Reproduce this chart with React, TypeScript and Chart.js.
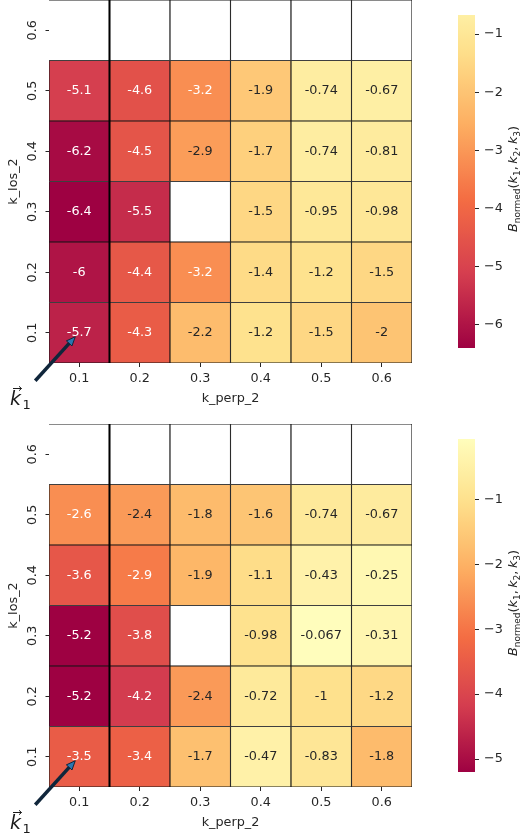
import React, { useEffect, useRef } from 'react';
import { Chart, registerables } from 'chart.js';

Chart.register(...registerables);

const FONT = '"DejaVu Sans"';
const TEXT = '#262626';
const FS = 12.8;

// categories
const xLabels = ['0.1', '0.2', '0.3', '0.4', '0.5', '0.6']; // k_perp_2
const yLabels = ['0.1', '0.2', '0.3', '0.4', '0.5', '0.6']; // k_los_2 (bottom -> top)

// top heatmap rows (k_los_2 = 0.1 ... 0.6), columns k_perp_2 = 0.1 ... 0.6
const topLos01 = [-5.7, -4.3, -2.2, -1.2, -1.5, -2];
const topLos02 = [-6, -4.4, -3.2, -1.4, -1.2, -1.5];
const topLos03 = [-6.4, -5.5, null, -1.5, -0.95, -0.98];
const topLos04 = [-6.2, -4.5, -2.9, -1.7, -0.74, -0.81];
const topLos05 = [-5.1, -4.6, -3.2, -1.9, -0.74, -0.67];
const topLos06 = [null, null, null, null, null, null];

// bottom heatmap rows
const botLos01 = [-3.5, -3.4, -1.7, -0.47, -0.83, -1.8];
const botLos02 = [-5.2, -4.2, -2.4, -0.72, -1, -1.2];
const botLos03 = [-5.2, -3.8, null, -0.98, -0.067, -0.31];
const botLos04 = [-3.6, -2.9, -1.9, -1.1, -0.43, -0.25];
const botLos05 = [-2.6, -2.4, -1.8, -1.6, -0.74, -0.67];
const botLos06 = [null, null, null, null, null, null];

// colorbar tick values
const topColorbarTicks = [-6, -5, -4, -3, -2, -1];
const bottomColorbarTicks = [-5, -4, -3, -2, -1];

const topRows = [topLos01, topLos02, topLos03, topLos04, topLos05, topLos06];
const bottomRows = [botLos01, botLos02, botLos03, botLos04, botLos05, botLos06];

const SPECTRAL_HEX = ['#9e0142', '#d53e4f', '#f46d43', '#fdae61', '#fee08b', '#ffffbf', '#e6f598', '#abdda4', '#66c2a5', '#3288bd', '#5e4fa2'];
const SPECTRAL = SPECTRAL_HEX.map((h) => [parseInt(h.slice(1, 3), 16), parseInt(h.slice(3, 5), 16), parseInt(h.slice(5, 7), 16)]);

function spectralRgb(t: number): number[] {
  const tt = Math.max(0, Math.min(1, t));
  const p = tt * 10;
  const i = Math.min(9, Math.floor(p));
  const f = p - i;
  const a = SPECTRAL[i], b = SPECTRAL[i + 1];
  return [a[0] + (b[0] - a[0]) * f, a[1] + (b[1] - a[1]) * f, a[2] + (b[2] - a[2]) * f];
}
function rgbStr(c: number[]) {
  return `rgb(${Math.round(c[0])},${Math.round(c[1])},${Math.round(c[2])})`;
}
// seaborn heatmap with center=0
function cellRgb(v: number, R: number) {
  return spectralRgb((v + R) / (2 * R));
}
function luminance(c: number[]) {
  const l = c.map((x) => {
    const s = x / 255;
    return s <= 0.03928 ? s / 12.92 : Math.pow((s + 0.055) / 1.055, 2.4);
  });
  return 0.2126 * l[0] + 0.7152 * l[1] + 0.0722 * l[2];
}
function fmt(v: number) {
  return String(parseFloat(v.toPrecision(2)));
}

type Part = { t: string; f: string; dy: number; gap?: number };
function drawParts(ctx: CanvasRenderingContext2D, parts: Part[]) {
  let total = 0;
  const widths = parts.map((p) => {
    ctx.font = p.f;
    const w = ctx.measureText(p.t).width + (p.gap || 0);
    total += w;
    return w;
  });
  let x = -total / 2;
  parts.forEach((p, i) => {
    ctx.font = p.f;
    ctx.fillText(p.t, x, p.dy);
    x += widths[i];
  });
}

function Panel({ rows, cbTicks, top }: { rows: (number | null)[][]; cbTicks: number[]; top: number }) {
  const heatRef = useRef<HTMLCanvasElement>(null);
  const cbRef = useRef<HTMLCanvasElement>(null);

  useEffect(() => {
    const vals = rows.flat().filter((v) => v != null) as number[];
    const vmin = Math.min(...vals);
    const vmax = Math.max(...vals);
    const R = Math.max(Math.abs(vmin), Math.abs(vmax));

    const datasets = rows.map((row, r) => ({
      data: row.map(() => [r - 0.5, r + 0.5]),
      backgroundColor: row.map((v) => (v == null ? '#ffffff' : rgbStr(cellRgb(v, R)))),
      borderColor: '#151515',
      borderWidth: 0.9,
      borderSkipped: (ctx: any) => (ctx.datasetIndex === rows.length - 1 && ctx.dataIndex === 0 ? 'left' : false),
      grouped: false,
      barPercentage: 1,
      categoryPercentage: 1,
    }));

    const heatPlugin = {
      id: 'heatExtras',
      afterDatasetsDraw(chart: any) {
        const { ctx, chartArea } = chart;
        const xs = chart.scales.x, ys = chart.scales.y;
        ctx.save();
        ctx.font = `${FS}px ${FONT}`;
        ctx.textAlign = 'center';
        ctx.textBaseline = 'middle';
        rows.forEach((row, r) =>
          row.forEach((v, c) => {
            if (v == null) return;
            const col = cellRgb(v, R);
            ctx.fillStyle = luminance(col) > 0.408 ? TEXT : '#ffffff';
            ctx.fillText(fmt(v), xs.getPixelForValue(c), ys.getPixelForValue(r));
          })
        );
        const xb = (xs.getPixelForValue(0) + xs.getPixelForValue(1)) / 2;
        ctx.strokeStyle = '#000000';
        ctx.lineWidth = 2;
        ctx.beginPath();
        ctx.moveTo(xb, chartArea.top);
        ctx.lineTo(xb, chartArea.bottom);
        ctx.stroke();
        ctx.restore();
      },
      afterDraw(chart: any) {
        const { ctx } = chart;
        const xs = chart.scales.x, ys = chart.scales.y;
        ctx.save();
        // arrow annotation pointing at first cell
        const tipX = xs.getPixelForValue(0) - 4;
        const tipY = ys.getPixelForValue(0) + 4;
        const tailX = tipX - 40, tailY = tipY + 44;
        const dx = tipX - tailX, dy = tipY - tailY;
        const len = Math.hypot(dx, dy);
        const ux = dx / len, uy = dy / len;
        const px = -uy, py = ux;
        ctx.strokeStyle = '#10263b';
        ctx.lineWidth = 3.5;
        ctx.lineCap = 'butt';
        ctx.beginPath();
        ctx.moveTo(tailX, tailY);
        ctx.lineTo(tipX - ux * 6, tipY - uy * 6);
        ctx.stroke();
        const hb = 9, hw = 3.8;
        ctx.beginPath();
        ctx.moveTo(tipX, tipY);
        ctx.lineTo(tipX - ux * hb + px * hw, tipY - uy * hb + py * hw);
        ctx.lineTo(tipX - ux * hb - px * hw, tipY - uy * hb - py * hw);
        ctx.closePath();
        ctx.fillStyle = '#2b76b0';
        ctx.fill();
        ctx.lineWidth = 1;
        ctx.stroke();

        // vector k_1 label
        ctx.fillStyle = '#1a1a1a';
        ctx.strokeStyle = '#1a1a1a';
        ctx.textAlign = 'left';
        ctx.textBaseline = 'alphabetic';
        ctx.font = `italic 19px ${FONT}`;
        ctx.fillText('k', 10, 405);
        ctx.font = `13px ${FONT}`;
        ctx.fillText('1', 22.5, 409);
        ctx.lineWidth = 1;
        ctx.beginPath();
        ctx.moveTo(13, 388.5);
        ctx.lineTo(21.5, 388.5);
        ctx.moveTo(19, 386.3);
        ctx.lineTo(21.5, 388.5);
        ctx.lineTo(19, 390.7);
        ctx.stroke();
        ctx.restore();
      },
    };

    const tickFont = { family: FONT, size: FS };

    const heat = new Chart(heatRef.current as HTMLCanvasElement, {
      type: 'bar',
      data: { labels: xLabels, datasets: datasets as any },
      options: {
        animation: false,
        responsive: false,
        maintainAspectRatio: false,
        events: [],
        layout: { padding: { left: 0, right: 8, top: 0, bottom: 0 } },
        plugins: { legend: { display: false }, tooltip: { enabled: false } },
        scales: {
          x: {
            type: 'category',
            offset: true,
            grid: { display: true, drawOnChartArea: false, drawTicks: true, tickLength: 4, offset: false, color: TEXT, tickColor: TEXT, tickWidth: 1 },
            border: { display: false },
            ticks: { color: TEXT, font: tickFont, padding: 3.8, maxRotation: 0, minRotation: 0, autoSkip: false },
            title: { display: true, text: 'k_perp_2', color: TEXT, font: tickFont, padding: { top: 0, bottom: 6.1 } },
            afterFit: (s: any) => {
              s.height = 49;
              s.paddingLeft = 0;
              s.paddingRight = 0;
            },
          },
          y: {
            type: 'linear',
            min: -0.5,
            max: 5.5,
            afterBuildTicks: (s: any) => {
              s.ticks = yLabels.map((_, i) => ({ value: i }));
            },
            grid: { display: true, drawOnChartArea: false, drawTicks: true, tickLength: 3.5, color: TEXT, tickColor: TEXT, tickWidth: 1 },
            border: { display: false },
            ticks: {
              color: TEXT,
              font: tickFont,
              padding: 3.1,
              minRotation: 90,
              maxRotation: 90,
              crossAlign: 'center',
              autoSkip: false,
              callback: (v: any) => yLabels[Math.round(Number(v))],
            },
            title: { display: true, text: 'k_los_2', color: TEXT, font: tickFont, padding: { top: 5.5, bottom: 0 } },
            afterFit: (s: any) => {
              s.width = 49;
              s.paddingTop = 0;
              s.paddingBottom = 0;
            },
          },
        },
      } as any,
      plugins: [heatPlugin],
    });

    const cbPlugin = {
      id: 'cbLabel',
      afterDraw(chart: any) {
        const { ctx, chartArea } = chart;
        ctx.save();
        ctx.translate(97, (chartArea.top + chartArea.bottom) / 2 - 2.5);
        ctx.rotate(-Math.PI / 2);
        ctx.fillStyle = TEXT;
        ctx.textAlign = 'left';
        ctx.textBaseline = 'alphabetic';
        const big = 12.8, small = 9;
        const it = `italic ${big}px ${FONT}`;
        const rm = `${big}px ${FONT}`;
        const sm = `${small}px ${FONT}`;
        const sd = 2.8;
        drawParts(ctx, [
          { t: 'B', f: it, dy: 0 },
          { t: 'normed', f: sm, dy: sd },
          { t: '(', f: rm, dy: 0 },
          { t: 'k', f: it, dy: 0 },
          { t: '1', f: sm, dy: sd },
          { t: ',', f: rm, dy: 0, gap: 2.5 },
          { t: 'k', f: it, dy: 0 },
          { t: '2', f: sm, dy: sd },
          { t: ',', f: rm, dy: 0, gap: 2.5 },
          { t: 'k', f: it, dy: 0 },
          { t: '3', f: sm, dy: sd },
          { t: ')', f: rm, dy: 0 },
        ]);
        ctx.restore();
      },
    };

    const cb = new Chart(cbRef.current as HTMLCanvasElement, {
      type: 'bar',
      data: {
        labels: [''],
        datasets: [
          {
            data: [[vmin, vmax]],
            borderWidth: 0,
            barPercentage: 1,
            categoryPercentage: 1,
            backgroundColor: (ctx: any) => {
              const chart = ctx.chart;
              const ys = chart.scales && chart.scales.y;
              if (!chart.chartArea || !ys) return rgbStr(cellRgb((vmin + vmax) / 2, R));
              const y0 = ys.getPixelForValue(vmin);
              const y1 = ys.getPixelForValue(vmax);
              const g = chart.ctx.createLinearGradient(0, y0, 0, y1);
              const n = 40;
              for (let i = 0; i <= n; i++) {
                const v = vmin + ((vmax - vmin) * i) / n;
                g.addColorStop(i / n, rgbStr(cellRgb(v, R)));
              }
              return g;
            },
          },
        ] as any,
      },
      options: {
        animation: false,
        responsive: false,
        maintainAspectRatio: false,
        events: [],
        layout: { padding: { left: 38, right: 0, top: 15, bottom: 15 } },
        plugins: { legend: { display: false }, tooltip: { enabled: false } },
        scales: {
          x: { display: false, offset: true },
          y: {
            type: 'linear',
            position: 'right',
            min: vmin,
            max: vmax,
            afterBuildTicks: (s: any) => {
              s.ticks = cbTicks.map((v) => ({ value: v }));
            },
            grid: { display: true, drawOnChartArea: false, drawTicks: true, tickLength: 4, color: TEXT, tickColor: TEXT, tickWidth: 1 },
            border: { display: false },
            ticks: {
              color: TEXT,
              font: tickFont,
              padding: 5,
              autoSkip: false,
              callback: (v: any) => '\u2212' + Math.abs(Number(v)),
            },
            afterFit: (s: any) => {
              s.width = 47;
              s.paddingTop = 0;
              s.paddingBottom = 0;
            },
          },
        },
      } as any,
      plugins: [cbPlugin],
    });

    return () => {
      heat.destroy();
      cb.destroy();
    };
  }, [rows, cbTicks]);

  return (
    <div style={{ position: 'absolute', left: 0, top, width: 522, height: 412 }}>
      <canvas
        ref={heatRef}
        width={420}
        height={412}
        style={{ position: 'absolute', left: 0, top: 0, width: 420, height: 412 }}
      />
      <canvas
        ref={cbRef}
        width={102}
        height={363}
        style={{ position: 'absolute', left: 420, top: 0, width: 102, height: 363 }}
      />
    </div>
  );
}

export default function App() {
  return (
    <div
      style={{
        position: 'absolute',
        left: 0,
        top: 0,
        width: 522,
        height: 838,
        overflow: 'hidden',
        background: '#ffffff',
      }}
    >
      <Panel rows={topRows} cbTicks={topColorbarTicks} top={0} />
      <Panel rows={bottomRows} cbTicks={bottomColorbarTicks} top={424} />
    </div>
  );
}
